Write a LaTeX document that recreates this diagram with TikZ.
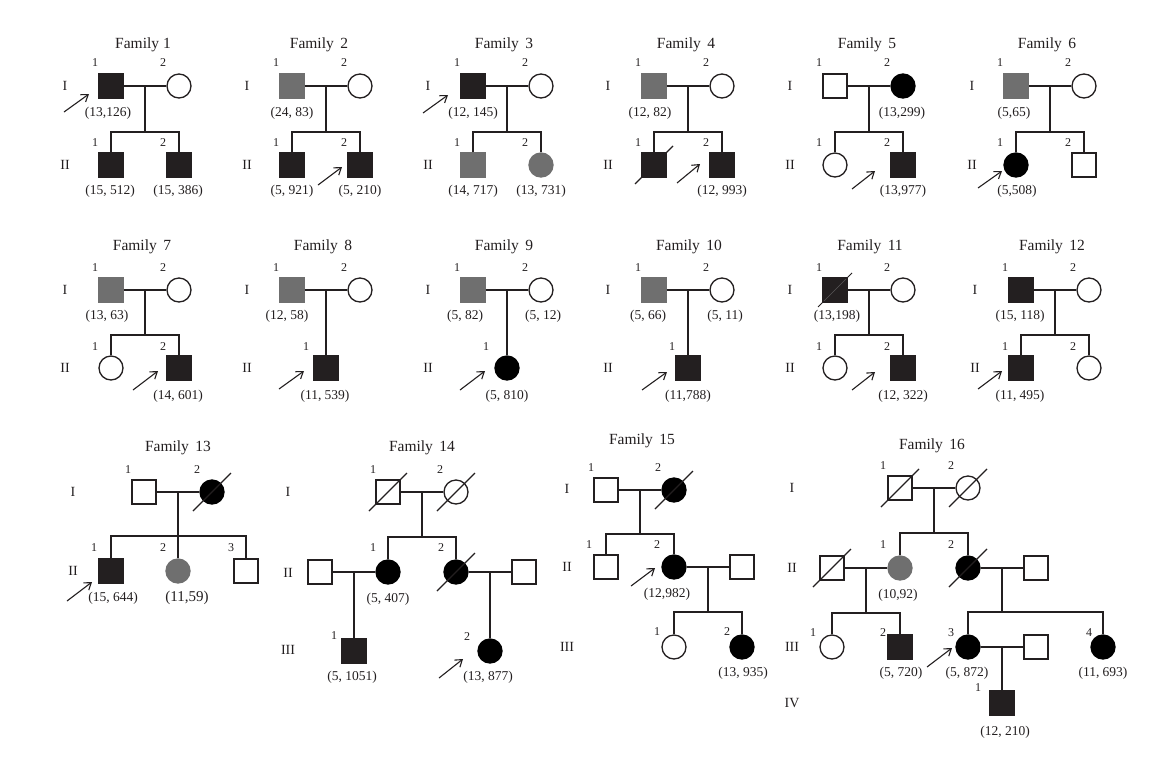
\documentclass[tikz,border=0pt]{standalone}
\usepackage{fontspec}
\setmainfont{Liberation Serif}
\usetikzlibrary{arrows.meta,calc}
\definecolor{pblk}{HTML}{231F20}
\definecolor{pgry}{HTML}{6F6F6F}
\newcount\tnum
\newcount\anum
\newcommand\T[4][pn]{\global\advance\tnum by 1\relax\node[#1] (t\the\tnum) at (#2,#3) {#4};}
\newcommand\Ind[4]{\node[#4] (#1) at (#2,#3) {};}
\newcommand\Mar[3]{\draw[ln] (#1) -- (#2); \coordinate (#3) at ($(#1)!0.5!(#2)$);}
\newcommand\Kids[4]{\draw[ln] (#1) -- (#2); \draw[ln] (#3.north) |- (#2) -| (#4.north);}
\newcommand\Dec[1]{\draw[ln] ($(#1.center)+(-19,19)$) -- ($(#1.center)+(19,-19)$);}
\newcommand\Arr[4]{\global\advance\anum by 1\relax
  \coordinate (as\the\anum) at (#1,#2); \coordinate (ae\the\anum) at (#3,#4);
  \draw[arr] (as\the\anum) -- (ae\the\anum);}
\newcommand\Fam[1]{Family\hspace{0.42em}#1}
\begin{document}
\begin{tikzpicture}[x=1pt,y=-1pt,
  ln/.style={line width=1.2pt, draw=pblk},
  sq/.style={draw=pblk, rectangle, minimum size=24pt, inner sep=0pt, line width=1.3pt, fill=white},
  ci/.style={draw=pblk, circle, minimum size=24pt, inner sep=0pt, line width=1.3pt, fill=white},
  aff/.style={fill=pblk},
  blk/.style={fill=black, draw=black},
  gr/.style={fill=pgry, draw=pgry},
  arr/.style={-{Straight Barb[length=6.5pt,width=9pt]}, line width=1.1pt, draw=pblk},
  pn/.style={font=\fontsize{13.5}{15}\selectfont, inner sep=0pt, text=pblk},
  pnb/.style={font=\fontsize{15}{17}\selectfont, inner sep=0pt, text=pblk},
  num/.style={font=\fontsize{12}{14}\selectfont, inner sep=0pt, text=pblk},
  gen/.style={font=\fontsize{14}{16}\selectfont, inner sep=0pt, text=pblk},
  ttl/.style={font=\fontsize{15.5}{17}\selectfont, inner sep=0pt, text=pblk}]
\useasboundingbox[fill=white] (0,0) rectangle (1152,772);

% ================= ROW 1 =================
% Family 1
\T[ttl]{143}{45}{Family 1}
\T[gen]{65}{86}{I} \T[gen]{65}{165}{II}
\T[num]{95}{63}{1} \T[num]{163}{63}{2} \T[num]{95}{143}{1} \T[num]{163}{143}{2}
\Ind{f1a}{111}{86}{sq,aff} \Ind{f1b}{179}{86}{ci} \Mar{f1a}{f1b}{f1m}
\coordinate (f1s) at (145,132);
\Ind{f1c}{111}{165}{sq,aff} \Ind{f1d}{179}{165}{sq,aff} \Kids{f1m}{f1s}{f1c}{f1d}
\T{108}{113}{(13,126)} \T{110}{191}{(15, 512)} \T{178}{191}{(15, 386)}
\Arr{64}{112}{89}{94}

% Family 2
\T[ttl]{319}{45}{\Fam{2}}
\T[gen]{247}{86}{I} \T[gen]{247}{165}{II}
\T[num]{276}{63}{1} \T[num]{344}{63}{2} \T[num]{276}{143}{1} \T[num]{344}{143}{2}
\Ind{f2a}{292}{86}{sq,gr} \Ind{f2b}{360}{86}{ci} \Mar{f2a}{f2b}{f2m}
\coordinate (f2s) at (326,132);
\Ind{f2c}{292}{165}{sq,aff} \Ind{f2d}{360}{165}{sq,aff} \Kids{f2m}{f2s}{f2c}{f2d}
\T{292}{113}{(24, 83)} \T{292}{191}{(5, 921)} \T{360}{191}{(5, 210)}
\Arr{318}{185}{342}{167}

% Family 3
\T[ttl]{504}{45}{\Fam{3}}
\T[gen]{428}{86}{I} \T[gen]{428}{165}{II}
\T[num]{457}{63}{1} \T[num]{525}{63}{2} \T[num]{457}{143}{1} \T[num]{525}{143}{2}
\Ind{f3a}{473}{86}{sq,aff} \Ind{f3b}{541}{86}{ci} \Mar{f3a}{f3b}{f3m}
\coordinate (f3s) at (507,132);
\Ind{f3c}{473}{165}{sq,gr} \Ind{f3d}{541}{165}{ci,gr} \Kids{f3m}{f3s}{f3c}{f3d}
\T{473}{113}{(12, 145)} \T{473}{191}{(14, 717)} \T{541}{191}{(13, 731)}
\Arr{423}{113}{448}{95}

% Family 4
\T[ttl]{686}{45}{\Fam{4}}
\T[gen]{608}{86}{I} \T[gen]{608}{165}{II}
\T[num]{638}{63}{1} \T[num]{706}{63}{2} \T[num]{638}{143}{1} \T[num]{706}{143}{2}
\Ind{f4a}{654}{86}{sq,gr} \Ind{f4b}{722}{86}{ci} \Mar{f4a}{f4b}{f4m}
\coordinate (f4s) at (688,132);
\Ind{f4c}{654}{165}{sq,aff} \Ind{f4d}{722}{165}{sq,aff} \Kids{f4m}{f4s}{f4c}{f4d}
\Dec{f4c}
\T{650}{113}{(12, 82)} \T{722}{191}{(12, 993)}
\Arr{677}{183}{700}{164}

% Family 5
\T[ttl]{867}{45}{\Fam{5}}
\T[gen]{790}{86}{I} \T[gen]{790}{165}{II}
\T[num]{819}{63}{1} \T[num]{887}{63}{2} \T[num]{819}{143}{1} \T[num]{887}{143}{2}
\Ind{f5a}{835}{86}{sq} \Ind{f5b}{903}{86}{ci,blk} \Mar{f5a}{f5b}{f5m}
\coordinate (f5s) at (869,132);
\Ind{f5c}{835}{165}{ci} \Ind{f5d}{903}{165}{sq,aff} \Kids{f5m}{f5s}{f5c}{f5d}
\T{902}{113}{(13,299)} \T{903}{191}{(13,977)}
\Arr{852}{189}{875}{171}

% Family 6
\T[ttl]{1047}{45}{\Fam{6}}
\T[gen]{972}{86}{I} \T[gen]{972}{165}{II}
\T[num]{1000}{63}{1} \T[num]{1068}{63}{2} \T[num]{1000}{143}{1} \T[num]{1068}{143}{2}
\Ind{f6a}{1016}{86}{sq,gr} \Ind{f6b}{1084}{86}{ci} \Mar{f6a}{f6b}{f6m}
\coordinate (f6s) at (1050,132);
\Ind{f6c}{1016}{165}{ci,blk} \Ind{f6d}{1084}{165}{sq} \Kids{f6m}{f6s}{f6c}{f6d}
\T{1014}{113}{(5,65)} \T{1017}{191}{(5,508)}
\Arr{978}{188}{1002}{171}

% ================= ROW 2 =================
% Family 7
\T[ttl]{142}{247}{\Fam{7}}
\T[gen]{65}{290}{I} \T[gen]{65}{368}{II}
\T[num]{95}{268}{1} \T[num]{163}{268}{2} \T[num]{95}{347}{1} \T[num]{163}{347}{2}
\Ind{f7a}{111}{290}{sq,gr} \Ind{f7b}{179}{290}{ci} \Mar{f7a}{f7b}{f7m}
\coordinate (f7s) at (145,335);
\Ind{f7c}{111}{368}{ci} \Ind{f7d}{179}{368}{sq,aff} \Kids{f7m}{f7s}{f7c}{f7d}
\T{107}{316}{(13, 63)} \T{178}{396}{(14, 601)}
\Arr{133}{390}{158}{371}

% Family 8
\T[ttl]{323}{247}{\Fam{8}}
\T[gen]{247}{290}{I} \T[gen]{247}{368}{II}
\T[num]{276}{268}{1} \T[num]{344}{268}{2} \T[num]{306}{347}{1}
\Ind{f8a}{292}{290}{sq,gr} \Ind{f8b}{360}{290}{ci} \Mar{f8a}{f8b}{f8m}
\Ind{f8c}{326}{368}{sq,aff} \draw[ln] (f8m) -- (f8c.north);
\T{287}{316}{(12, 58)} \T{325}{396}{(11, 539)}
\Arr{279}{389}{304}{371}

% Family 9
\T[ttl]{504}{247}{\Fam{9}}
\T[gen]{428}{290}{I} \T[gen]{428}{368}{II}
\T[num]{457}{268}{1} \T[num]{525}{268}{2} \T[num]{486}{347}{1}
\Ind{f9a}{473}{290}{sq,gr} \Ind{f9b}{541}{290}{ci} \Mar{f9a}{f9b}{f9m}
\Ind{f9c}{507}{368}{ci,blk} \draw[ln] (f9m) -- (f9c.north);
\T{465}{316}{(5, 82)} \T{543}{316}{(5, 12)} \T{507}{396}{(5, 810)}
\Arr{460}{390}{485}{371}

% Family 10
\T[ttl]{689}{247}{\Fam{10}}
\T[gen]{608}{290}{I} \T[gen]{608}{368}{II}
\T[num]{638}{268}{1} \T[num]{706}{268}{2} \T[num]{672}{347}{1}
\Ind{f10a}{654}{290}{sq,gr} \Ind{f10b}{722}{290}{ci} \Mar{f10a}{f10b}{f10m}
\Ind{f10c}{688}{368}{sq,aff} \draw[ln] (f10m) -- (f10c.north);
\T{648}{316}{(5, 66)} \T{725}{316}{(5, 11)} \T{688}{396}{(11,788)}
\Arr{642}{390}{667}{372}

% Family 11
\T[ttl]{870}{247}{\Fam{11}}
\T[gen]{790}{290}{I} \T[gen]{790}{368}{II}
\T[num]{819}{268}{1} \T[num]{887}{268}{2} \T[num]{819}{347}{1} \T[num]{887}{347}{2}
\Ind{f11a}{835}{290}{sq,aff} \Ind{f11b}{903}{290}{ci} \Mar{f11a}{f11b}{f11m}
\draw[line width=0.9pt, draw=pblk] ($(f11a.center)+(-17,17)$) -- ($(f11a.center)+(17,-17)$);
\draw[line width=0.5pt, draw=pgry!70!pblk] ($(f11a.center)+(-11,11)$) -- ($(f11a.center)+(11,-11)$);
\coordinate (f11s) at (869,335);
\Ind{f11c}{835}{368}{ci} \Ind{f11d}{903}{368}{sq,aff} \Kids{f11m}{f11s}{f11c}{f11d}
\T{837}{316}{(13,198)} \T{903}{396}{(12, 322)}
\Arr{852}{390}{875}{372}

% Family 12
\T[ttl]{1052}{247}{\Fam{12}}
\T[gen]{975}{290}{I} \T[gen]{975}{368}{II}
\T[num]{1005}{268}{1} \T[num]{1073}{268}{2} \T[num]{1005}{347}{1} \T[num]{1073}{347}{2}
\Ind{f12a}{1021}{290}{sq,aff} \Ind{f12b}{1089}{290}{ci} \Mar{f12a}{f12b}{f12m}
\coordinate (f12s) at (1055,335);
\Ind{f12c}{1021}{368}{sq,aff} \Ind{f12d}{1089}{368}{ci} \Kids{f12m}{f12s}{f12c}{f12d}
\T{1020}{316}{(15, 118)} \T{1020}{396}{(11, 495)}
\Arr{978}{389}{1002}{371}

% ================= ROW 3 =================
% Family 13
\T[ttl]{178}{448}{\Fam{13}}
\T[gen]{73}{492}{I} \T[gen]{73}{571}{II}
\T[num]{128}{470}{1} \T[num]{197}{470}{2}
\T[num]{94}{548}{1} \T[num]{163}{548}{2} \T[num]{231}{548}{3}
\Ind{f13a}{144}{492}{sq} \Ind{f13b}{212}{492}{ci,blk} \Mar{f13a}{f13b}{f13m}
\Dec{f13b}
\coordinate (f13s) at (178,536);
\Ind{f13c}{111}{571}{sq,aff} \Ind{f13d}{178}{571}{ci,gr} \Ind{f13e}{246}{571}{sq}
\Kids{f13m}{f13s}{f13c}{f13e} \draw[ln] (f13s) -- (f13d.north);
\T{113}{598}{(15, 644)} \T[pnb]{187}{598}{(11,59)}
\Arr{67}{601}{92}{582}

% Family 14
\T[ttl]{422}{448}{\Fam{14}}
\T[gen]{288}{492}{I} \T[gen]{288}{573}{II} \T[gen]{288}{650}{III}
\T[num]{373}{470}{1} \T[num]{440}{470}{2}
\T[num]{373}{548}{1} \T[num]{441}{548}{2}
\T[num]{334}{636}{1} \T[num]{467}{637}{2}
\Ind{f14a}{388}{492}{sq} \Ind{f14b}{456}{492}{ci} \Mar{f14a}{f14b}{f14m}
\Dec{f14a} \Dec{f14b}
\coordinate (f14s) at (422,537);
\Ind{f14c}{388}{572}{ci,blk} \Ind{f14d}{456}{572}{ci,blk} \Kids{f14m}{f14s}{f14c}{f14d}
\Dec{f14d}
\Ind{f14e}{320}{572}{sq} \Ind{f14f}{524}{572}{sq}
\Mar{f14e}{f14c}{f14n} \Mar{f14d}{f14f}{f14o}
\Ind{f14g}{354}{651}{sq,aff} \Ind{f14h}{490}{651}{ci,blk}
\draw[ln] (f14n) -- (f14g.north); \draw[ln] (f14o) -- (f14h.north);
\T{388}{599}{(5, 407)} \T{352}{677}{(5, 1051)} \T{488}{677}{(13, 877)}
\Arr{439}{678}{463}{659}

% Family 15
\T[ttl]{642}{441}{\Fam{15}}
\T[gen]{567}{489}{I} \T[gen]{567}{567}{II} \T[gen]{567}{647}{III}
\T[num]{591}{468}{1} \T[num]{658}{468}{2}
\T[num]{589}{545}{1} \T[num]{657}{545}{2}
\T[num]{657}{632}{1} \T[num]{727}{632}{2}
\Ind{f15a}{606}{490}{sq} \Ind{f15b}{674}{490}{ci,blk} \Mar{f15a}{f15b}{f15m}
\Dec{f15b}
\coordinate (f15s) at (640,534);
\Ind{f15c}{606}{567}{sq} \Ind{f15d}{674}{567}{ci,blk} \Kids{f15m}{f15s}{f15c}{f15d}
\Ind{f15e}{742}{567}{sq} \Mar{f15d}{f15e}{f15n}
\coordinate (f15t) at (708,612);
\Ind{f15f}{674}{647}{ci} \Ind{f15g}{742}{647}{ci,blk} \Kids{f15n}{f15t}{f15f}{f15g}
\T{667}{594}{(12,982)} \T{743}{673}{(13, 935)}
\Arr{631}{586}{655}{568}

% Family 16
\T[ttl]{932}{446}{\Fam{16}}
\T[gen]{792}{488}{I} \T[gen]{792}{568}{II} \T[gen]{792}{647}{III} \T[gen]{792}{703}{IV}
\T[num]{883}{466}{1} \T[num]{951}{466}{2}
\T[num]{883}{545}{1} \T[num]{951}{545}{2}
\T[num]{813}{633}{1} \T[num]{883}{633}{2} \T[num]{951}{633}{3} \T[num]{1089}{633}{4}
\T[num]{978}{688}{1}
\Ind{f16a}{900}{488}{sq} \Ind{f16b}{968}{488}{ci} \Mar{f16a}{f16b}{f16m}
\Dec{f16a} \Dec{f16b}
\coordinate (f16s) at (934,533);
\Ind{f16c}{900}{568}{ci,gr} \Ind{f16d}{968}{568}{ci,blk} \Kids{f16m}{f16s}{f16c}{f16d}
\Dec{f16d}
\Ind{f16e}{832}{568}{sq} \Dec{f16e} \Ind{f16f}{1036}{568}{sq}
\Mar{f16e}{f16c}{f16n} \Mar{f16d}{f16f}{f16o}
\coordinate (f16t) at (866,613);
\Ind{f16g}{832}{647}{ci} \Ind{f16h}{900}{647}{sq,aff} \Kids{f16n}{f16t}{f16g}{f16h}
\coordinate (f16u) at (1002,612);
\Ind{f16i}{968}{647}{ci,blk} \Ind{f16j}{1103}{647}{ci,blk} \Kids{f16o}{f16u}{f16i}{f16j}
\Ind{f16k}{1036}{647}{sq} \Mar{f16i}{f16k}{f16p}
\Ind{f16l}{1002}{703}{sq,aff} \draw[ln] (f16p) -- (f16l.north);
\T{898}{595}{(10,92)} \T{901}{673}{(5, 720)} \T{967}{673}{(5, 872)}
\T{1103}{673}{(11, 693)} \T{1005}{732}{(12, 210)}
\Arr{927}{667}{952}{648}
\end{tikzpicture}
\end{document}
